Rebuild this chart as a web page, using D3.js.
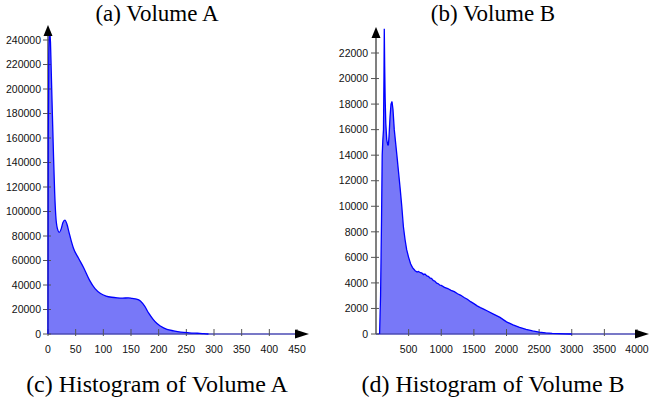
<!DOCTYPE html>
<html><head><meta charset="utf-8">
<script src="https://cdn.jsdelivr.net/npm/d3@7"></script>
<style>body{margin:0;background:#fff}svg{display:block}</style>
</head><body>
<svg id="c" width="649" height="403"></svg>
<script>
// ---- data ----
const titlesTop = ["(a) Volume A", "(b) Volume B"];
const captions = ["(c) Histogram of Volume A", "(d) Histogram of Volume B"];

const aX = [0,0.5,1.5,3,4.5,6,8,10,12,14,17,20.5,24,27,30.5,34,38,42,46,55,64,75,85,95,105,115,125,135,145,152,160,167,175,182,190,197,203,215,227,240,255,270,282,290];
const aY = [0,160000,228000,247000,238000,212000,178000,145000,116000,97000,86000,83000,86000,91000,93000,90000,83000,76000,70000,62000,54500,44000,37000,33000,31000,30000,29500,29300,29500,29000,28500,27000,22500,17000,12000,8500,6500,3800,2600,1600,1000,600,300,0];

const bX = [55,70,85,95,105,115,122,127,133,140,150,165,180,190,200,215,230,245,260,280,300,320,345,370,395,420,445,470,500,530,560,600,630,650,680,700,730,750,780,800,830,850,880,900,930,950,980,1000,1050,1100,1150,1200,1250,1300,1350,1400,1450,1500,1550,1600,1650,1700,1800,1900,2000,2100,2200,2300,2400,2500,2600,2700,2800,2900,3000];
const bY = [0,3000,9000,14000,15200,16000,20000,23900,21000,18500,16500,15200,14800,14800,15500,17000,18000,18200,17600,16000,15000,14000,12700,11400,10000,8400,7400,6600,6000,5500,5200,4950,4850,4900,4800,4780,4650,4700,4550,4520,4380,4350,4180,4150,3980,3950,3820,3800,3650,3560,3420,3320,3150,3030,2860,2720,2530,2380,2200,2060,1950,1820,1560,1300,950,720,520,360,240,150,90,50,25,10,0];

const aYTicks = d3.range(0, 240001, 20000);
const aXTicks = d3.range(0, 451, 50);
const bYTicks = d3.range(0, 22001, 2000);
const bXTicks = d3.range(500, 4001, 500);

// ---- drawing ----
const svg = d3.select("#c");
const FILL = "#7878f8", LINE = "#0000ff", AXIS = "#808080";

function panel(cfg) {
  const x = d3.scaleLinear().domain(cfg.xDomain).range(cfg.xRange);
  const y = d3.scaleLinear().domain(cfg.yDomain).range(cfg.yRange);
  const g = svg.append("g");
  const pts = cfg.xs.map((v, i) => [v, cfg.ys[i]]);
  const curve = cfg.smooth ? d3.curveMonotoneX : d3.curveLinear;
  g.append("path").datum(pts)
    .attr("fill", FILL)
    .attr("d", d3.area().x(d => x(d[0])).y0(y(0)).y1(d => y(d[1])).curve(curve));
  const x0 = cfg.xRange[0], y0 = cfg.yRange[0];
  g.append("line").attr("x1", x0).attr("x2", x0).attr("y1", y0).attr("y2", cfg.yArrowTip + 8)
    .attr("stroke", AXIS).attr("stroke-width", 2);
  g.append("line").attr("x1", x0).attr("x2", cfg.xArrowTip - 8).attr("y1", y0).attr("y2", y0)
    .attr("stroke", "#4b4bb4").attr("stroke-width", 1.6);
  const yt = g.append("g").selectAll("g").data(cfg.yTicks).join("g")
    .attr("transform", d => `translate(0,${y(d)})`);
  yt.append("line").attr("x1", x0 - 5).attr("x2", x0 + 3).attr("stroke", "#555").attr("stroke-width", 1);
  yt.append("text").attr("x", x0 - cfg.yLabelGap).attr("dy", "0.35em").attr("text-anchor", "end")
    .attr("font-family", "Liberation Sans, Arial, sans-serif").attr("font-size", 10.5).attr("fill", "#111")
    .text(d => d);
  const xt = g.append("g").selectAll("g").data(cfg.xTicks).join("g")
    .attr("transform", d => `translate(${x(d)},0)`);
  xt.append("line").attr("y1", y0 - 5).attr("y2", y0 + 2).attr("stroke", "#555").attr("stroke-width", 1);
  xt.append("text").attr("y", 353).attr("text-anchor", "middle")
    .attr("font-family", "Liberation Sans, Arial, sans-serif").attr("font-size", 10.5).attr("fill", "#111")
    .text(d => d);
  g.append("path").datum(pts)
    .attr("fill", "none").attr("stroke", LINE).attr("stroke-width", 1.3)
    .attr("d", d3.line().x(d => x(d[0])).y(d => y(d[1])).curve(curve));
  g.append("path").attr("fill", "#000")
    .attr("d", `M${x0},${cfg.yArrowTip} L${x0 - 4.5},${cfg.yArrowTip + 11} L${x0 + 4.5},${cfg.yArrowTip + 11} Z`);
  g.append("path").attr("fill", "#000")
    .attr("d", `M${cfg.xArrowTip},${y0} L${cfg.xArrowTip - 14},${y0 - 4.5} L${cfg.xArrowTip - 14},${y0 + 4.5} Z`);
  const cx = cfg.center;
  svg.append("text").attr("x", cx).attr("y", 21).attr("text-anchor", "middle")
    .attr("font-family", "Liberation Serif, Times New Roman, serif").attr("font-size", 23).attr("fill", "#000")
    .text(cfg.title);
  svg.append("text").attr("x", cx).attr("y", 392).attr("text-anchor", "middle")
    .attr("font-family", "Liberation Serif, Times New Roman, serif").attr("font-size", 24).attr("fill", "#000")
    .text(cfg.caption);
}

panel({
  xs: aX, ys: aY, smooth: true,
  xDomain: [0, 450], xRange: [48, 297],
  yDomain: [0, 240000], yRange: [334, 40],
  yTicks: aYTicks, xTicks: aXTicks,
  yArrowTip: 25, xArrowTip: 309, yLabelGap: 7,
  title: titlesTop[0], caption: captions[0], center: 157
});
panel({
  xs: bX, ys: bY, smooth: false,
  xDomain: [0, 4000], xRange: [376, 637],
  yDomain: [0, 22000], yRange: [334, 53],
  yTicks: bYTicks, xTicks: bXTicks,
  yArrowTip: 27, xArrowTip: 649, yLabelGap: 8,
  title: titlesTop[1], caption: captions[1], center: 493
});
</script>
</body></html>
